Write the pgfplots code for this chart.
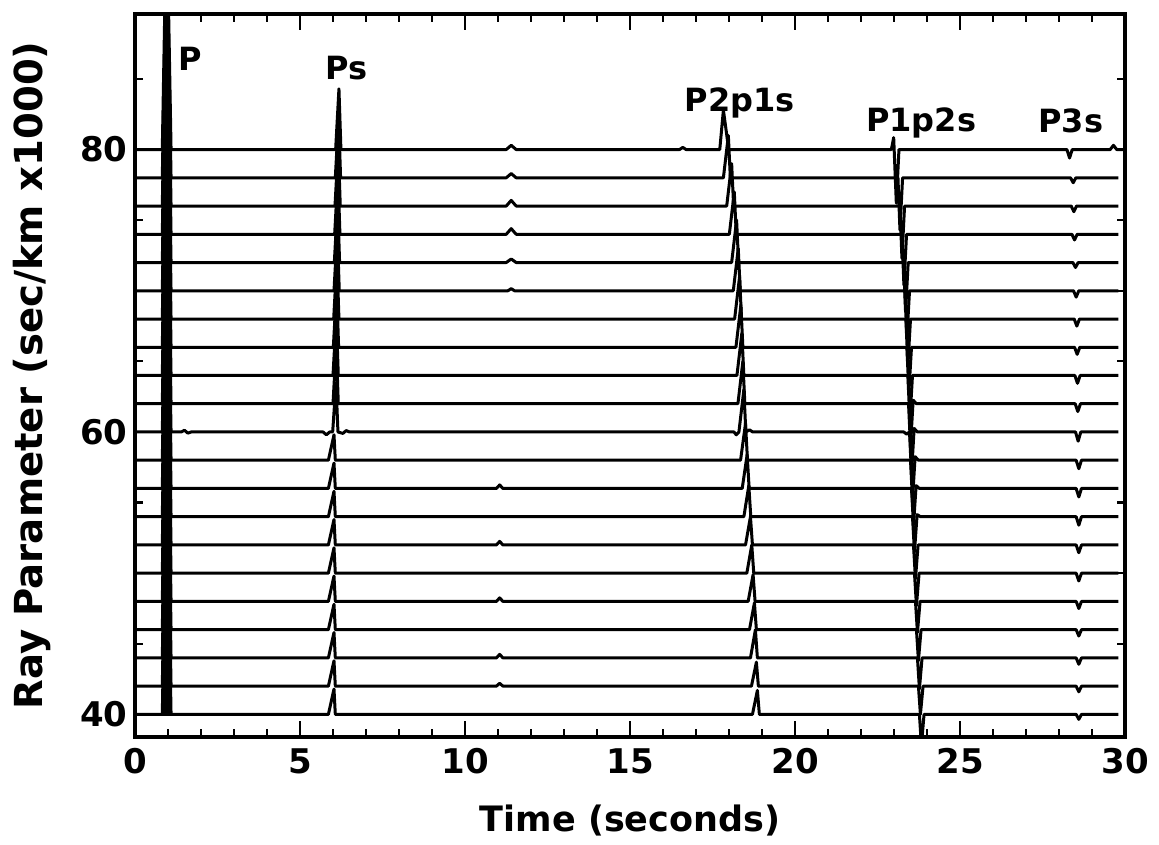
\documentclass[border=0pt]{standalone}
\usepackage{fontspec}
\setmainfont{DejaVu Sans}
\usepackage{pgfplots}
\pgfplotsset{compat=1.18}
\newcommand\lbl{\bfseries\fontsize{17}{20}\selectfont}
\newcommand\plbl{\bfseries\fontsize{16}{19}\selectfont}
\tikzset{trace/.style={black, line width=1.5pt, line join=round, mark=none}}
\begin{document}
\begin{tikzpicture}
\begin{axis}[
  name=ax,
  scale only axis,
  width=495pt, height=361.5pt,
  xmin=0, xmax=30, ymin=38.4, ymax=89.6,
  axis line style={line width=1.9pt},
  xtick={0,5,...,30},
  minor x tick num=4,
  ytick={40,60,80},
  minor ytick={45,50,55,65,70,75,85},
  major tick length=8pt,
  minor tick length=4pt,
  every tick/.style={black, line width=1.1pt},
  every major y tick/.style={draw=none},
  tick label style={font=\lbl},
  xticklabel style={inner ysep=5.5pt},
  yticklabel style={inner xsep=3.5pt},
  /pgf/number format/assume math mode=true,
]
% P arrival, one filled spike per trace
\addplot[fill=black, draw=black, line width=0.6pt, unbounded coords=jump] coordinates {
(0.80,80) (0.96,101) (1.12,80) (nan,nan)
(0.80,78) (0.96,99) (1.12,78) (nan,nan)
(0.80,76) (0.96,97) (1.12,76) (nan,nan)
(0.80,74) (0.96,95) (1.12,74) (nan,nan)
(0.80,72) (0.96,93) (1.12,72) (nan,nan)
(0.80,70) (0.96,91) (1.12,70) (nan,nan)
(0.80,68) (0.96,89) (1.12,68) (nan,nan)
(0.80,66) (0.96,87) (1.12,66) (nan,nan)
(0.80,64) (0.96,85) (1.12,64) (nan,nan)
(0.80,62) (0.96,83) (1.12,62) (nan,nan)
(0.80,60) (0.96,81) (1.12,60) (nan,nan)
(0.80,58) (0.96,79) (1.12,58) (nan,nan)
(0.80,56) (0.96,77) (1.12,56) (nan,nan)
(0.80,54) (0.96,75) (1.12,54) (nan,nan)
(0.80,52) (0.96,73) (1.12,52) (nan,nan)
(0.80,50) (0.96,71) (1.12,50) (nan,nan)
(0.80,48) (0.96,69) (1.12,48) (nan,nan)
(0.80,46) (0.96,67) (1.12,46) (nan,nan)
(0.80,44) (0.96,65) (1.12,44) (nan,nan)
(0.80,42) (0.96,63) (1.12,42) (nan,nan)
(0.80,40) (0.96,61) (1.12,40)
};
% traces, ray parameter 80 down to 40
\addplot[trace] coordinates {(0,80) (6.08,80) (6.18,84.3) (6.24,80) (11.25,80) (11.4,80.3) (11.55,80) (16.5,80) (16.6,80.15) (16.7,80) (17.72,80) (17.83,82.8) (17.99,80) (22.92,80) (22.99,80.85) (23.07,76.2) (23.15,80) (28.24,80) (28.32,79.4) (28.4,80) (29.55,80) (29.65,80.3) (29.75,80) (30,80)};
\addplot[trace] coordinates {(0,78) (6.07,78) (6.17,82.3) (6.23,78) (11.25,78) (11.4,78.3) (11.55,78) (17.83,78) (17.98,81) (18.04,78) (23.12,78) (23.18,74.3) (23.26,78) (28.35,78) (28.43,77.65) (28.51,78) (29.8,78)};
\addplot[trace] coordinates {(0,76) (6.06,76) (6.16,80.3) (6.22,76) (11.25,76) (11.4,76.4) (11.55,76) (17.93,76) (18.08,79) (18.14,76) (23.18,76) (23.24,72.3) (23.32,76) (28.37,76) (28.45,75.6) (28.53,76) (29.8,76)};
\addplot[trace] coordinates {(0,74) (6.05,74) (6.15,78.3) (6.21,74) (11.25,74) (11.4,74.4) (11.55,74) (18.01,74) (18.16,77) (18.22,74) (23.24,74) (23.30,70.4) (23.38,74) (28.39,74) (28.47,73.6) (28.55,74) (29.8,74)};
\addplot[trace] coordinates {(0,72) (6.04,72) (6.14,76.3) (6.20,72) (11.25,72) (11.4,72.25) (11.55,72) (18.08,72) (18.23,75) (18.29,72) (23.29,72) (23.35,68.5) (23.43,72) (28.42,72) (28.5,71.65) (28.58,72) (29.8,72)};
\addplot[trace] coordinates {(0,70) (6.03,70) (6.13,74.3) (6.19,70) (11.3,70) (11.4,70.15) (11.5,70) (18.13,70) (18.28,73) (18.34,70) (23.33,70) (23.39,66.6) (23.47,70) (28.44,70) (28.52,69.55) (28.6,70) (29.8,70)};
\addplot[trace] coordinates {(0,68) (6.02,68) (6.12,72.3) (6.18,68) (18.17,68) (18.32,71) (18.38,68) (23.36,68) (23.42,64.7) (23.5,68) (28.46,68) (28.54,67.5) (28.62,68) (29.8,68)};
\addplot[trace] coordinates {(0,66) (6.01,66) (6.11,70.3) (6.17,66) (18.21,66) (18.36,69) (18.42,66) (23.39,66) (23.45,62.8) (23.53,66) (28.47,66) (28.55,65.5) (28.63,66) (29.8,66)};
\addplot[trace] coordinates {(0,64) (6.0,64) (6.10,68.3) (6.16,64) (18.24,64) (18.39,67) (18.45,64) (23.42,64) (23.48,60.8) (23.56,64) (28.48,64) (28.56,63.45) (28.64,64) (29.8,64)};
\addplot[trace] coordinates {(0,62) (6.0,62) (6.10,66.3) (6.16,62) (18.27,62) (18.42,65) (18.48,62) (23.44,62) (23.50,59) (23.58,62.25) (23.68,62) (28.49,62) (28.57,61.45) (28.65,62) (29.8,62)};
\addplot[trace] coordinates {(0,60) (1.4,60) (1.5,60.12) (1.6,59.92) (1.7,60) (5.7,60) (5.8,59.8) (5.9,60) (5.99,60) (6.09,63.5) (6.15,60) (6.3,59.9) (6.4,60.1) (6.5,60) (18.15,60) (18.22,59.8) (18.3,60) (18.45,63) (18.51,60) (18.62,60.15) (18.72,60) (23.3,60) (23.38,59.85) (23.47,60) (23.53,57) (23.61,60.25) (23.71,60) (28.5,60) (28.58,59.35) (28.66,60) (29.8,60)};
\addplot[trace] coordinates {(0,58) (5.86,58) (6.03,59.8) (6.07,58) (18.35,58) (18.50,60.6) (18.56,58) (23.5,58) (23.56,55.2) (23.64,58.25) (23.74,58) (28.52,58) (28.6,57.4) (28.68,58) (29.8,58)};
\addplot[trace] coordinates {(0,56) (5.86,56) (6.03,57.8) (6.07,56) (10.95,56) (11.05,56.25) (11.15,56) (18.40,56) (18.55,58.4) (18.61,56) (23.53,56) (23.59,53.4) (23.67,56.2) (23.77,56) (28.52,56) (28.6,55.4) (28.68,56) (29.8,56)};
\addplot[trace] coordinates {(0,54) (5.86,54) (6.03,55.8) (6.07,54) (18.45,54) (18.60,56.2) (18.66,54) (23.56,54) (23.62,51.5) (23.7,54.15) (23.8,54) (28.52,54) (28.6,53.4) (28.68,54) (29.8,54)};
\addplot[trace] coordinates {(0,52) (5.86,52) (6.03,53.8) (6.07,52) (10.95,52) (11.05,52.25) (11.15,52) (18.50,52) (18.65,54) (18.71,52) (23.59,52) (23.65,49.6) (23.73,52) (28.52,52) (28.6,51.45) (28.68,52) (29.8,52)};
\addplot[trace] coordinates {(0,50) (5.86,50) (6.03,51.8) (6.07,50) (18.54,50) (18.69,52) (18.75,50) (23.62,50) (23.68,47.7) (23.76,50) (28.52,50) (28.6,49.45) (28.68,50) (29.8,50)};
\addplot[trace] coordinates {(0,48) (5.86,48) (6.03,49.8) (6.07,48) (10.95,48) (11.05,48.25) (11.15,48) (18.58,48) (18.73,49.9) (18.79,48) (23.65,48) (23.71,45.8) (23.79,48) (28.52,48) (28.6,47.5) (28.68,48) (29.8,48)};
\addplot[trace] coordinates {(0,46) (5.86,46) (6.03,47.8) (6.07,46) (18.62,46) (18.77,47.9) (18.83,46) (23.68,46) (23.74,43.8) (23.82,46) (28.52,46) (28.6,45.55) (28.68,46) (29.8,46)};
\addplot[trace] coordinates {(0,44) (5.86,44) (6.03,45.8) (6.07,44) (10.95,44) (11.05,44.25) (11.15,44) (18.65,44) (18.80,46) (18.86,44) (23.71,44) (23.77,41.8) (23.85,44) (28.52,44) (28.6,43.55) (28.68,44) (29.8,44)};
\addplot[trace] coordinates {(0,42) (5.86,42) (6.03,43.8) (6.07,42) (10.95,42) (11.05,42.2) (11.15,42) (18.68,42) (18.83,43.7) (18.89,42) (23.74,42) (23.80,40) (23.88,42) (28.52,42) (28.6,41.6) (28.68,42) (29.8,42)};
\addplot[trace] coordinates {(0,40) (5.86,40) (6.03,41.8) (6.07,40) (18.71,40) (18.86,41.7) (18.92,40) (23.77,40) (23.83,37.8) (23.91,40) (28.52,40) (28.6,39.65) (28.68,40) (29.8,40)};
% phase names
\node[font=\plbl] at (axis cs:1.67,86.4) {P};
\node[font=\plbl] at (axis cs:6.42,85.8) {Ps};
\node[font=\plbl] at (axis cs:18.33,83.3) {P2p1s};
\node[font=\plbl] at (axis cs:23.82,81.9) {P1p2s};
\node[font=\plbl] at (axis cs:28.36,82.0) {P3s};
\end{axis}
\node[anchor=base, font=\bfseries\fontsize{17.5}{20}\selectfont] at ([yshift=-47.3pt]ax.south) {Time (seconds)};
\node[anchor=base, rotate=90, font=\bfseries\fontsize{19.3}{22}\selectfont] at ([xshift=-46pt]ax.west) {Ray Parameter (sec/km x1000)};
\pgfresetboundingbox
\path[use as bounding box] ([shift={(-67.5pt,-53.5pt)}]ax.south west) rectangle ([shift={(17pt,7pt)}]ax.north east);
\end{tikzpicture}
\end{document}
